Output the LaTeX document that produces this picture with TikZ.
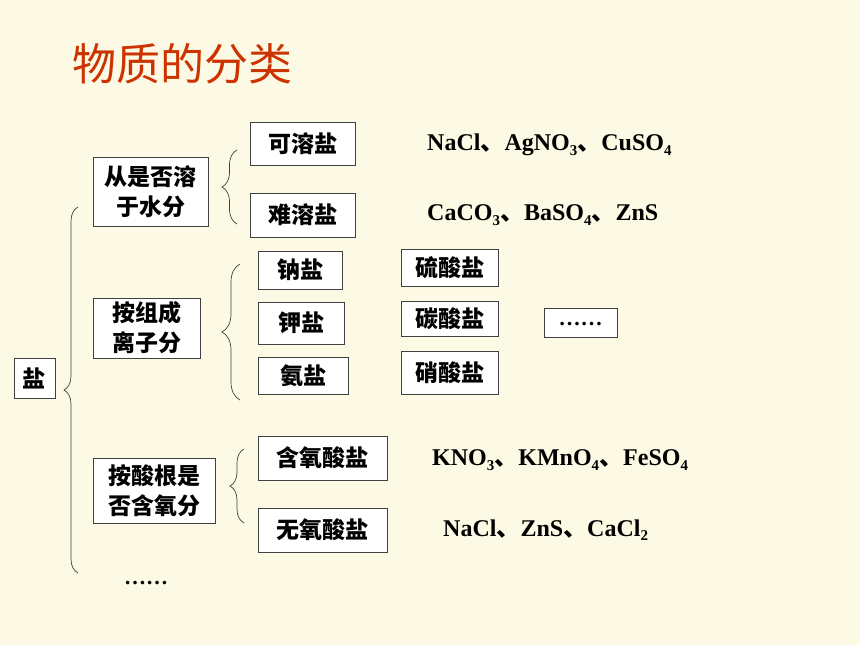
\documentclass[tikz,border=0pt]{standalone}
\usepackage{fontspec}
\setmainfont{Liberation Serif}
\newfontfamily\cjk{Noto Sans CJK SC}
\usetikzlibrary{decorations.pathreplacing}
\definecolor{bgcream}{RGB}{252,250,228}
\definecolor{titlered}{RGB}{204,51,0}
\newcommand{\lo}[1]{\raisebox{-0.4ex}{\fontsize{15}{15}\selectfont #1}}
\newcommand{\dun}{{\cjk\bfseries 、}}

\begin{document}
\begin{tikzpicture}[x=1pt, y=-1pt,
	saltbox/.style={draw=black!75, line width=0.9pt, fill=white, inner sep=0pt, align=center, font=\cjk\bfseries\fontsize{23}{30}\selectfont},
	formula/.style={anchor=west, inner sep=0pt, font=\bfseries\fontsize{24}{28}\selectfont},
	bracebar/.style={decorate, decoration={brace, amplitude=#1}, line width=0.7pt, draw=black!75}]
			%%%%% START %%%%%
			
			\fill[bgcream] (0, 0) rectangle (860, 645);
			
			\node[anchor=west, inner sep=0pt, text=titlered, font=\cjk\fontsize{44}{44}\selectfont] (title) at (72, 64) {物质的分类};
			
			\node[saltbox, minimum width=41pt, minimum height=40pt] (yan) at (34.5, 378) {盐};
			
			\node[saltbox, minimum width=115pt, minimum height=69pt] (rongjie) at (150.5, 191.5) {从是否溶\\于水分};
			\node[saltbox, minimum width=107pt, minimum height=60pt] (lizi) at (146.5, 328) {按组成\\离子分};
			\node[saltbox, minimum width=122pt, minimum height=65pt] (suangen) at (154, 490.5) {按酸根是\\否含氧分};
			
			\node[saltbox, minimum width=105pt, minimum height=43pt] (kerong) at (302.5, 143.5) {可溶盐};
			\node[saltbox, minimum width=105pt, minimum height=44pt] (nanrong) at (302.5, 215) {难溶盐};
			
			\node[saltbox, minimum width=84pt, minimum height=38pt] (na) at (300, 270) {钠盐};
			\node[saltbox, minimum width=86pt, minimum height=42pt] (jia) at (301, 323) {钾盐};
			\node[saltbox, minimum width=90pt, minimum height=37pt] (an) at (303, 375.5) {氨盐};
			
			\node[saltbox, minimum width=97pt, minimum height=37pt] (liu) at (449.5, 267.5) {硫酸盐};
			\node[saltbox, minimum width=97pt, minimum height=35pt] (tan) at (449.5, 318.5) {碳酸盐};
			\node[saltbox, minimum width=97pt, minimum height=43pt] (xiao) at (449.5, 372.5) {硝酸盐};
			\node[saltbox, minimum width=73pt, minimum height=29pt, text depth=0pt, font=\bfseries\fontsize{22}{24}\selectfont] (more) at (580.5, 322.5) {\raisebox{-0.25ex}{……}};
			
			\node[saltbox, minimum width=129pt, minimum height=44pt] (hanyang) at (322.5, 458) {含氧酸盐};
			\node[saltbox, minimum width=129pt, minimum height=44pt] (wuyang) at (322.5, 530) {无氧酸盐};
			
			\node[formula] (kerongeg) at (427, 145) {NaCl\dun AgNO\lo{3}\dun CuSO\lo{4}};
			\node[formula] (nanrongeg) at (427, 215) {CaCO\lo{3}\dun BaSO\lo{4}\dun ZnS};
			\node[formula] (hanyangeg) at (432, 460) {KNO\lo{3}\dun KMnO\lo{4}\dun FeSO\lo{4}};
			\node[formula] (wuyangeg) at (443, 530) {NaCl\dun ZnS\dun CaCl\lo{2}};
			
			\node[formula, anchor=center, font=\bfseries\fontsize{22}{24}\selectfont] (etc) at (146, 583) {……};
			
			% braces
			\draw[bracebar=14pt] (78, 573) -- (78, 207);
			\draw[bracebar=15pt] (237, 224) -- (237, 150);
			\draw[bracebar=18pt] (240, 400) -- (240, 264);
			\draw[bracebar=14pt] (244, 523) -- (244, 449);
			
			%%%%% END %%%%%
\end{tikzpicture}
\end{document}
